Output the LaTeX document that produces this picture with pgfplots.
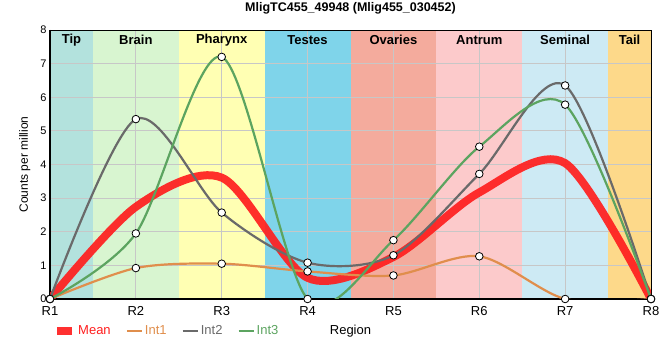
\documentclass[border=0pt]{standalone}
\usepackage{fontspec}
\setmainfont{Liberation Sans}
\usepackage{pgfplots}
\pgfplotsset{compat=1.18}
\definecolor{cTip}{HTML}{B3E2DD}
\definecolor{cBrain}{HTML}{D8F5D0}
\definecolor{cPhar}{HTML}{FFFFB3}
\definecolor{cTestes}{HTML}{7FD4EA}
\definecolor{cOva}{HTML}{F4AB9D}
\definecolor{cAntrum}{HTML}{FCCACB}
\definecolor{cSem}{HTML}{CDEAF4}
\definecolor{cTail}{HTML}{FDD98A}
\definecolor{cMean}{HTML}{FF1E1E}
\definecolor{cInt1}{HTML}{E08E4C}
\definecolor{cInt2}{HTML}{6A6A6A}
\definecolor{cInt3}{HTML}{5CA460}
\begin{document}
\begin{tikzpicture}
\begin{axis}[
  set layers,
  scale only axis, width=601pt, height=269pt,
  xmin=1, xmax=8, ymin=0, ymax=8,
  xtick={1,2,3,4,5,6,7,8},
  xticklabels={R1,R2,R3,R4,R5,R6,R7,R8},
  ytick={0,1,2,3,4,5,6,7,8},
  major tick length=0pt,
  grid=major, grid style={color=black!22, line width=0.8pt},
  axis line style={line width=0.8pt, black},
  clip mode=individual,
  /pgf/number format/assume math mode=true,
  xticklabel style={font=\fontsize{13}{15}\selectfont, yshift=-4pt},
  yticklabel style={font=\fontsize{11}{13}\selectfont},
  title={\bfseries MligTC455\_49948 (Mlig455\_030452)},
  title style={at={(axis description cs:0.5,1)}, anchor=center, yshift=16pt, font=\fontsize{12.5}{15}\selectfont},
  xlabel={Region},
  xlabel style={at={(axis description cs:0.5,-0.118)}, anchor=center, font=\fontsize{13}{15}\selectfont},
  ylabel={Counts per million},
  ylabel style={at={(axis description cs:-0.042,0.5)}, anchor=center, font=\fontsize{12}{14}\selectfont},
  legend style={draw=none, fill=none, legend columns=-1, at={(axis description cs:0.0,-0.118)}, anchor=west,
    font=\fontsize{13}{15}\selectfont, /tikz/every even column/.append style={column sep=13pt}},
  legend image code/.code={\draw[#1] (0pt,0pt) -- (15pt,0pt);},
]
% region bands
\addplot[fill=cTip, draw=none, on layer=axis background, forget plot] coordinates {(1,8) (1.5,8)} \closedcycle;
\addplot[fill=cBrain, draw=none, on layer=axis background, forget plot] coordinates {(1.5,8) (2.5,8)} \closedcycle;
\addplot[fill=cPhar, draw=none, on layer=axis background, forget plot] coordinates {(2.5,8) (3.5,8)} \closedcycle;
\addplot[fill=cTestes, draw=none, on layer=axis background, forget plot] coordinates {(3.5,8) (4.5,8)} \closedcycle;
\addplot[fill=cOva, draw=none, on layer=axis background, forget plot] coordinates {(4.5,8) (5.5,8)} \closedcycle;
\addplot[fill=cAntrum, draw=none, on layer=axis background, forget plot] coordinates {(5.5,8) (6.5,8)} \closedcycle;
\addplot[fill=cSem, draw=none, on layer=axis background, forget plot] coordinates {(6.5,8) (7.5,8)} \closedcycle;
\addplot[fill=cTail, draw=none, on layer=axis background, forget plot] coordinates {(7.5,8) (8,8)} \closedcycle;
% series
\addplot[cMean, line width=8pt, opacity=0.92, smooth, mark=none] coordinates {(1,0) (2,2.74) (3,3.61) (4,0.63) (5,1.25) (6,3.17) (7,4.04) (8,0)};
\addlegendentry{\textcolor{cMean}{Mean}}
\addplot[cInt1, line width=2.2pt, smooth, mark=*, mark size=3.8pt, mark options={fill=white, draw=black, line width=0.8pt}] coordinates {(1,0) (2,0.92) (3,1.05) (4,0.82) (5,0.70) (6,1.27) (7,0) (8,0)};
\addlegendentry{\textcolor{cInt1}{Int1}}
\addplot[cInt2, line width=2.2pt, smooth, mark=*, mark size=3.8pt, mark options={fill=white, draw=black, line width=0.8pt}] coordinates {(1,0) (2,5.35) (3,2.57) (4,1.08) (5,1.30) (6,3.72) (7,6.35) (8,0)};
\addlegendentry{\textcolor{cInt2}{Int2}}
\addplot[cInt3, line width=2.2pt, smooth, mark=*, mark size=3.8pt, mark options={fill=white, draw=black, line width=0.8pt}] coordinates {(1,0) (2,1.95) (3,7.2) (4,0) (5,1.75) (6,4.53) (7,5.78) (8,0)};
\addlegendentry{\textcolor{cInt3}{Int3}}
% band labels
\node[font=\bfseries\fontsize{13}{15}\selectfont] at (axis cs:1.25,7.7) {Tip};
\node[font=\bfseries\fontsize{13}{15}\selectfont] at (axis cs:2,7.7) {Brain};
\node[font=\bfseries\fontsize{13}{15}\selectfont] at (axis cs:3,7.7) {Pharynx};
\node[font=\bfseries\fontsize{13}{15}\selectfont] at (axis cs:4,7.7) {Testes};
\node[font=\bfseries\fontsize{13}{15}\selectfont] at (axis cs:5,7.7) {Ovaries};
\node[font=\bfseries\fontsize{13}{15}\selectfont] at (axis cs:6,7.7) {Antrum};
\node[font=\bfseries\fontsize{13}{15}\selectfont] at (axis cs:7,7.7) {Seminal};
\node[font=\bfseries\fontsize{13}{15}\selectfont] at (axis cs:7.75,7.7) {Tail};
\begin{pgfonlayer}{axis lines}
\draw[line width=2.5pt, black] (rel axis cs:0,1) -- (rel axis cs:0,0) -- (rel axis cs:1,0);
\end{pgfonlayer}
\end{axis}
\pgfresetboundingbox
\path[use as bounding box] ([xshift=-50pt,yshift=-61pt]current axis.south west) rectangle ([xshift=9pt,yshift=30pt]current axis.north east);
\end{tikzpicture}
\end{document}
